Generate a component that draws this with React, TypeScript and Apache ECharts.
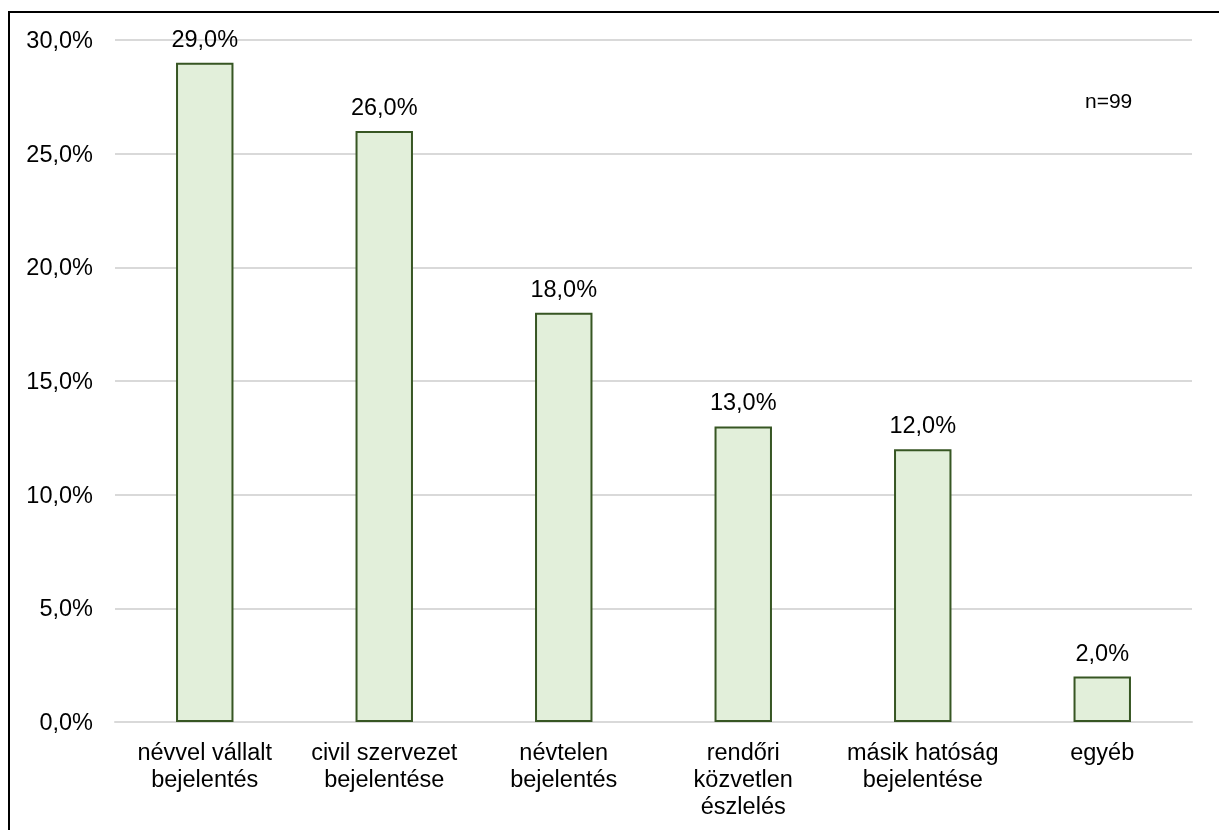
import React, { useEffect, useRef } from "react";
import * as echarts from "echarts";

const categories = [
  "névvel vállalt\nbejelentés",
  "civil szervezet\nbejelentése",
  "névtelen\nbejelentés",
  "rendőri\nközvetlen\nészlelés",
  "másik hatóság\nbejelentése",
  "egyéb",
];
const values = [29, 26, 18, 13, 12, 2];
const yTicks = { min: 0, max: 30, interval: 5 };
const note = "n=99";

const fmt = (v: number) => v.toFixed(1).replace(".", ",") + "%";

export default function App() {
  const ref = useRef<HTMLDivElement>(null);
  useEffect(() => {
    if (!ref.current) return;
    const chart = echarts.init(ref.current, null, { renderer: "svg" });
    const font = "'Liberation Sans', Arial, sans-serif";
    chart.setOption({
      animation: false,
      textStyle: { fontFamily: font },
      grid: { left: 115, right: 27, top: 40, bottom: 108, containLabel: false },
      xAxis: {
        type: "category",
        data: categories,
        axisLine: { show: true, lineStyle: { color: "#d9d9d9", width: 2 } },
        axisTick: { show: false },
        axisLabel: {
          color: "#000",
          fontSize: 23.5,
          lineHeight: 27,
          margin: 16,
          fontFamily: font,
          interval: 0,
        },
      },
      yAxis: {
        type: "value",
        min: yTicks.min,
        max: yTicks.max,
        interval: yTicks.interval,
        axisLine: { show: false },
        axisTick: { show: false },
        splitLine: { lineStyle: { color: "#d9d9d9", width: 2 } },
        axisLabel: {
          color: "#000",
          fontSize: 23.5,
          margin: 22,
          fontFamily: font,
          formatter: (v: number) => fmt(v),
        },
      },
      series: [
        {
          type: "bar",
          data: values,
          barWidth: "32%",
          itemStyle: { color: "#e2efda", borderColor: "#375623", borderWidth: 2 },
          label: {
            show: true,
            position: "top",
            distance: 12,
            color: "#000",
            fontSize: 23.5,
            fontFamily: font,
            formatter: (p: any) => fmt(p.value),
          },
        },
      ],
      graphic: [
        {
          type: "text",
          left: 1085,
          top: 90,
          style: { text: note, fontSize: 21, fill: "#000", fontFamily: font },
        },
      ],
    });
    return () => chart.dispose();
  }, []);
  return (
    <>
      <div
        style={{
          position: "fixed",
          left: 8,
          top: 11,
          width: 1300,
          height: 900,
          border: "2px solid #000",
          boxSizing: "border-box",
        }}
      />
      <div
        ref={ref}
        style={{ position: "fixed", left: 0, top: 0, width: 1219, height: 830 }}
      />
    </>
  );
}
